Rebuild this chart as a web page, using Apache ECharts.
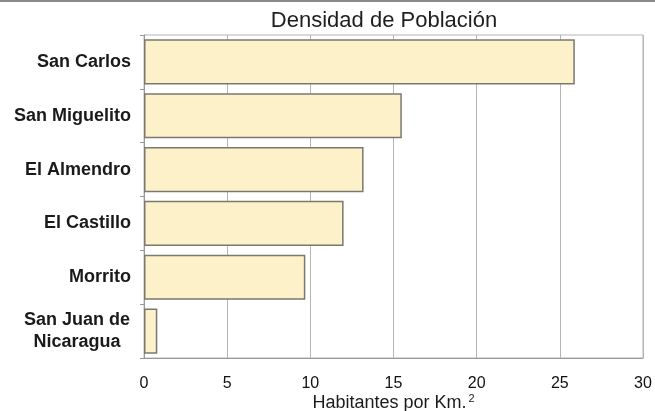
<!DOCTYPE html>
<html>
<head>
<meta charset="utf-8">
<script src="https://cdn.jsdelivr.net/npm/echarts@6/dist/echarts.min.js"></script>
<style>
html,body{margin:0;padding:0;background:#fff;}
#chart{width:655px;height:411px;}
</style>
</head>
<body>
<div id="chart"></div>
<script>
const categories = ['San Carlos', 'San Miguelito', 'El Almendro', 'El Castillo', 'Morrito', 'San Juan de\nNicaragua'];
const densidad = [25.9, 15.5, 13.2, 12.0, 9.7, 0.8];
const titleText = 'Densidad de Población';
const axisNameMain = 'Habitantes por Km.';
const axisNameSup = '2';

const FONT = '"Liberation Sans", Arial, Helvetica, sans-serif';
const chart = echarts.init(document.getElementById('chart'), null, {renderer: 'canvas'});
chart.setOption({
  backgroundColor: '#ffffff',
  animation: false,
  textStyle: {fontFamily: FONT},
  graphic: [
    {type: 'text', x: 384, y: 21, style: {text: titleText, fontFamily: FONT, fontSize: 22, fill: '#1e1e1e', align: 'center', verticalAlign: 'middle'}},
    {type: 'rect', shape: {x: 0, y: 0, width: 655, height: 2}, style: {fill: '#8a8a8a'}}
  ],
  grid: {left: 144, right: 12, top: 35, bottom: 53, show: true, borderColor: '#b5b5b5', borderWidth: 1, outerBoundsMode: 'none', containLabel: false},
  xAxis: {
    type: 'value', min: 0, max: 30, interval: 5,
    axisLine: {show: true, lineStyle: {color: '#999999'}},
    axisTick: {show: false},
    splitLine: {show: true, lineStyle: {color: '#b5b5b5', width: 1}},
    axisLabel: {fontSize: 16, color: '#111111', margin: 18, fontFamily: FONT},
    name: '{a|' + axisNameMain + '}{s|' + axisNameSup + '}',
    nameLocation: 'middle', nameGap: 35, nameMoveOverlap: false,
    nameTextStyle: {
      lineHeight: 20,
      rich: {
        a: {fontSize: 18, color: '#1a1a1a', fontFamily: FONT, lineHeight: 20},
        s: {fontSize: 11, color: '#1a1a1a', fontFamily: FONT, lineHeight: 20, verticalAlign: 'top', padding: [0, 0, 0, 2]}
      }
    }
  },
  yAxis: {
    type: 'category', data: categories, inverse: true,
    axisLine: {show: true, lineStyle: {color: '#999999'}},
    axisTick: {show: true, length: 4, lineStyle: {color: '#999999'}},
    axisLabel: {
      margin: 13, fontSize: 18, fontWeight: 'bold', color: '#1a1a1a', fontFamily: FONT,
      formatter: function (v) {
        if (v.indexOf('\n') >= 0) {
          return v.split('\n').map(function (s) { return '{c|' + s + '}'; }).join('\n');
        }
        return v;
      },
      rich: {
        c: {width: 108, align: 'center', fontSize: 18, fontWeight: 'bold', color: '#1a1a1a', lineHeight: 22, fontFamily: FONT}
      }
    }
  },
  series: [{
    type: 'bar', data: densidad, barCategoryGap: '16%',
    itemStyle: {color: '#fcf1c9', borderColor: '#7a786f', borderWidth: 1.5}
  }]
});
</script>
</body>
</html>
